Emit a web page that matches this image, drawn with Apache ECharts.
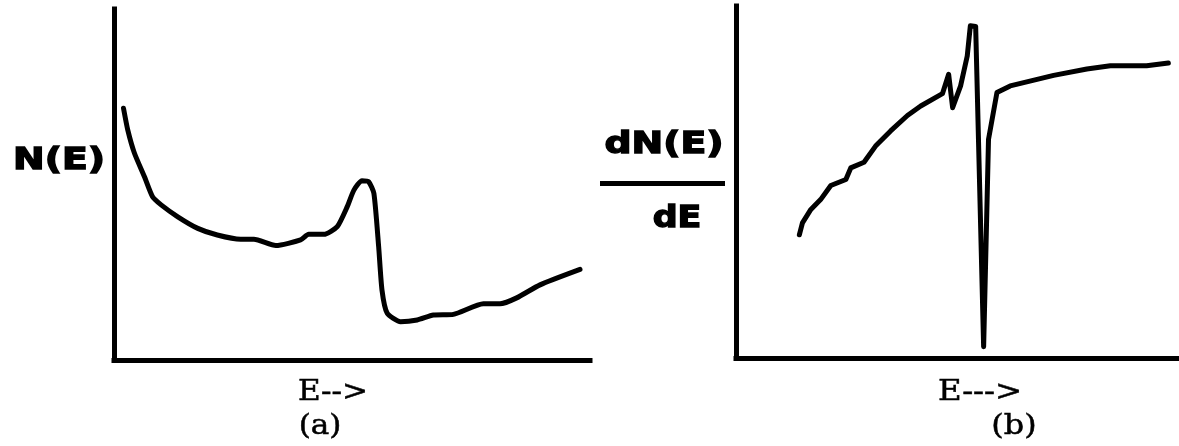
<!DOCTYPE html>
<html>
<head>
<meta charset="utf-8">
<title>N(E) and dN(E)/dE</title>
<script src="https://cdn.jsdelivr.net/npm/echarts@6/dist/echarts.min.js"></script>
<style>
  html, body { margin: 0; padding: 0; background: #ffffff; }
  #chart { width: 1179px; height: 446px; }
</style>
</head>
<body>
<div id="chart"></div>
<script>
// (a) electron count spectrum N(E)
const energyA = [2.0, 2.9, 4.3, 6.4, 8.1, 9.9, 13.4, 17.6, 21.7, 26.6, 29.4, 34.0, 39.2, 40.9, 44.1,
  46.9, 49.0, 50.4, 52.1, 53.5, 54.6, 55.6, 56.3, 57.4, 60.2, 63.7, 67.1, 71.3, 77.6, 81.1, 84.6, 89.5, 97.9];
const countsA = [71.7, 65.5, 58.9, 52.2, 46.5, 44.2, 40.8, 37.5, 35.6, 34.4, 34.4, 32.6, 34.2, 35.8, 35.8,
  38.0, 43.7, 48.4, 51.1, 50.8, 47.5, 32.3, 19.9, 13.3, 10.9, 11.4, 12.8, 13.0, 16.0, 16.0, 17.7, 21.4, 25.8];

// (b) derivative spectrum dN(E)/dE
const energyB = [14.3, 15.0, 16.9, 19.1, 21.4, 24.8, 25.9, 28.9, 31.5, 34.9, 38.7, 41.7, 46.6, 48.0,
  48.9, 50.7, 52.2, 52.9, 54.1, 55.9, 57.0, 58.9, 61.9, 71.7, 79.2, 84.5, 92.7, 97.6];
const derivB = [35.0, 38.4, 42.2, 45.0, 49.0, 50.7, 54.0, 55.6, 60.2, 64.5, 68.9, 71.6, 75.1, 80.6,
  71.1, 77.3, 85.8, 94.4, 94.2, 3.2, 62.1, 75.4, 77.3, 80.3, 82.1, 83.0, 83.0, 83.8];

// axis captions
const yTitleA = 'N(E)';
const yTitleBTop = 'dN(E)';
const yTitleBBottom = 'dE';
const xTitleA = 'E-->';
const xTitleB = 'E--->';
const panelA = '(a)';
const panelB = '(b)';

const pairs = (xs, ys) => xs.map((x, i) => [x, ys[i]]);

const sansBold = 'bold 30px "DejaVu Sans", sans-serif';
const serif = '27px "DejaVu Serif", serif';

function axisPair(gridIndex) {
  const line = { show: true, lineStyle: { color: '#000', width: 5, cap: 'square' } };
  return {
    x: {
      type: 'value', gridIndex, min: 0, max: 100,
      axisLine: line, axisTick: { show: false }, axisLabel: { show: false }, splitLine: { show: false }
    },
    y: {
      type: 'value', gridIndex, min: 0, max: 100,
      axisLine: line, axisTick: { show: false }, axisLabel: { show: false }, splitLine: { show: false }
    }
  };
}
const axA = axisPair(0), axB = axisPair(1);

// centred caption, stretched horizontally and lightly outlined for a heavier print look
function label(text, x, y, font, sx, weight) {
  return {
    type: 'text', x, y, scaleX: sx, scaleY: 1,
    style: {
      text, font, fill: '#000', stroke: '#000', lineWidth: weight,
      align: 'center', verticalAlign: 'middle'
    }
  };
}

const chart = echarts.init(document.getElementById('chart'), null, { renderer: 'canvas' });
chart.setOption({
  animation: false,
  backgroundColor: '#ffffff',
  grid: [
    { left: 114, right: 589, top: 9, bottom: 86 },
    { left: 736, right: 0, top: 6, bottom: 88 }
  ],
  xAxis: [axA.x, axB.x],
  yAxis: [axA.y, axB.y],
  series: [
    {
      type: 'line', xAxisIndex: 0, yAxisIndex: 0, data: pairs(energyA, countsA),
      showSymbol: false, smooth: 0.2,
      lineStyle: { color: '#000', width: 5, cap: 'round', join: 'round' }
    },
    {
      type: 'line', xAxisIndex: 1, yAxisIndex: 1, data: pairs(energyB, derivB),
      showSymbol: false,
      lineStyle: { color: '#000', width: 5, cap: 'round', join: 'round' }
    }
  ],
  graphic: [
    label(yTitleA, 59, 161, sansBold, 1.26, 1.4),
    label(yTitleBTop, 664, 145, sansBold, 1.26, 1.4),
    { type: 'rect', shape: { x: 600, y: 181, width: 125, height: 5 }, style: { fill: '#000' } },
    label(yTitleBBottom, 677, 219, sansBold, 1.16, 1.4),
    label(xTitleA, 333, 393, serif, 1.15, 0.5),
    label(panelA, 320, 427, serif, 1.15, 0.5),
    label(xTitleB, 980, 393, serif, 1.2, 0.5),
    label(panelB, 1014, 427, serif, 1.18, 0.5)
  ]
});
</script>
</body>
</html>
